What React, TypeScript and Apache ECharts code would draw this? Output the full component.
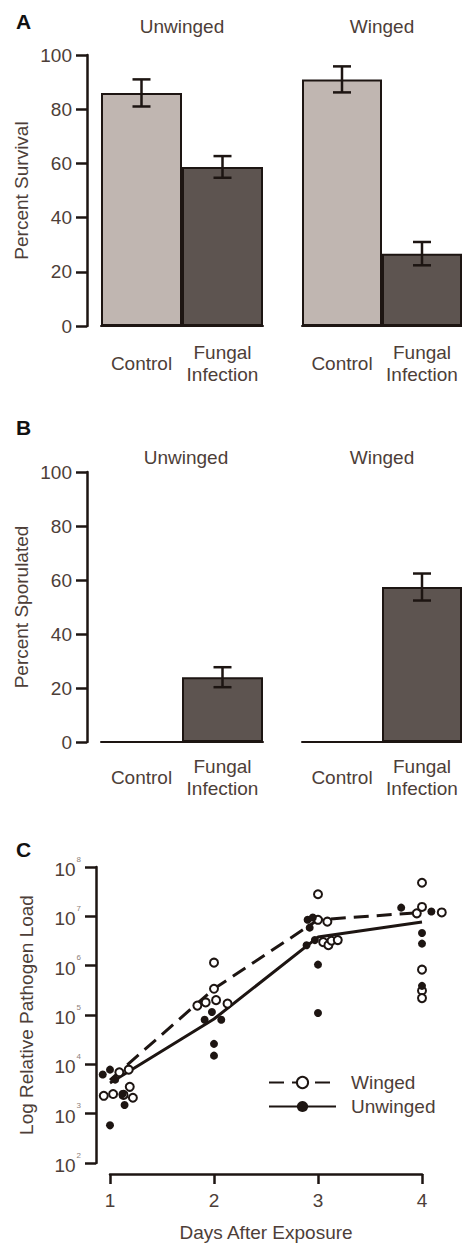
import React, { useEffect, useRef } from "react";
import * as echarts from "echarts";

// ---- Data ----
const barCategories = ["Control", "Fungal\nInfection"];
const survivalUnwinged = [86, 58.7];
const survivalUnwingedErr = [5, 4];
const survivalWinged = [91, 26.7];
const survivalWingedErr = [4.8, 4.3];
const sporulatedUnwinged = [0, 24];
const sporulatedUnwingedErr = [0, 3.7];
const sporulatedWinged = [0, 57.4];
const sporulatedWingedErr = [0, 5];

const days = [1, 2, 3, 4];
const wingedMean = [4800, 340000, 8500000, 12000000];
const unwingedMean = [4200, 83000, 3800000, 7700000];
const wingedPoints = [
  [0.94, 2300], [1.03, 2500], [1.09, 6900], [1.13, 2400], [1.18, 7800], [1.19, 3500], [1.22, 2100],
  [1.84, 155000], [1.92, 180000], [2.0, 340000], [2.0, 1150000], [2.02, 200000], [2.13, 170000],
  [3.0, 28000000], [3.0, 8500000], [3.05, 3000000], [3.09, 7800000], [3.1, 2600000], [3.13, 3200000], [3.19, 3300000],
  [3.95, 11500000], [4.0, 48000000], [4.0, 15500000], [4.19, 12000000], [4.0, 830000], [4.0, 310000], [4.0, 220000],
];
const unwingedPoints = [
  [0.93, 6200], [1.0, 7800], [1.05, 4900], [1.12, 2500], [1.14, 1500], [1.0, 580],
  [1.91, 80000], [1.98, 115000], [2.07, 80000], [2.0, 26000], [2.0, 15000],
  [2.89, 2600000], [2.9, 8500000], [2.92, 5900000], [2.95, 9500000], [2.97, 3300000], [3.0, 1050000], [3.0, 110000],
  [3.8, 15000000], [4.09, 12500000], [4.0, 4600000], [4.0, 2800000], [4.0, 390000],
];

// ---- Styles ----
const FONT = "'Liberation Sans', Arial, sans-serif";
const INK = "#1d1512";
const TEXT = "#4d3e38";
const SUP = "#8d807a";
const BAR_COLORS = ["#c0b6b1", "#5d5450"];

function barData(values: number[]) {
  return values.map((v, i) => ({ value: v, itemStyle: { color: BAR_COLORS[i] } }));
}
function errData(values: number[], errs: number[]) {
  return values
    .map((v, i) => [i, v - errs[i], v + errs[i], errs[i]])
    .filter((d) => d[3] > 0);
}

function errorRender(params: any, api: any) {
  const x = api.value(0);
  const p1 = api.coord([x, api.value(1)]);
  const p2 = api.coord([x, api.value(2)]);
  const w = 9;
  const style = { stroke: INK, lineWidth: 2.5 };
  return {
    type: "group",
    children: [
      { type: "line", shape: { x1: p1[0], y1: p1[1], x2: p2[0], y2: p2[1] }, style },
      { type: "line", shape: { x1: p1[0] - w, y1: p1[1], x2: p1[0] + w, y2: p1[1] }, style },
      { type: "line", shape: { x1: p2[0] - w, y1: p2[1], x2: p2[0] + w, y2: p2[1] }, style },
    ],
  };
}

function catAxis(gridIndex: number, margin: number) {
  return {
    type: "category",
    gridIndex,
    data: barCategories,
    axisLine: { show: true, lineStyle: { color: INK, width: 2 } },
    axisTick: { show: false },
    axisLabel: {
      fontFamily: FONT,
      fontSize: 19,
      color: TEXT,
      margin,
      verticalAlign: "middle",
      lineHeight: 22,
      interval: 0,
    },
  };
}

function pctAxis(gridIndex: number, show: boolean, name: string) {
  return {
    type: "value",
    gridIndex,
    show,
    min: 0,
    max: 100,
    interval: 20,
    offset: 14,
    name,
    nameLocation: "middle",
    nameGap: 56,
    nameTextStyle: { fontFamily: FONT, fontSize: 19, color: TEXT },
    axisLine: { show: true, lineStyle: { color: INK, width: 2.5 } },
    axisTick: { show: true, length: 11, lineStyle: { color: INK, width: 2.5 } },
    axisLabel: { fontFamily: FONT, fontSize: 19, color: TEXT, margin: 15 },
    splitLine: { show: false },
  };
}

export default function App() {
  const ref = useRef<HTMLDivElement>(null);
  useEffect(() => {
    if (!ref.current) return;
    const chart = echarts.init(ref.current, undefined, { renderer: "svg" });

    const titleText = (text: string, x: number, y: number, bold = false) => ({
      type: "text",
      x,
      y,
      style: {
        text,
        fontFamily: FONT,
        fontSize: bold ? 21 : 19,
        fontWeight: bold ? "bold" : "normal",
        fill: bold ? "#111" : TEXT,
        textAlign: bold ? "left" : "center",
        textVerticalAlign: "middle",
      },
    });

    const option: any = {
      animation: false,
      backgroundColor: "#ffffff",
      textStyle: { fontFamily: FONT },
      graphic: [
        titleText("A", 16, 21, true),
        titleText("Unwinged", 182, 26),
        titleText("Winged", 382, 26),
        titleText("B", 16, 427, true),
        titleText("Unwinged", 186, 457),
        titleText("Winged", 382, 457),
        titleText("C", 16, 849, true),
      ],
      grid: [
        { left: 101, width: 162, top: 55, height: 271 },
        { left: 302, width: 160, top: 55, height: 271 },
        { left: 101, width: 162, top: 472, height: 270 },
        { left: 302, width: 160, top: 472, height: 270 },
        { left: 110, width: 312, top: 867, height: 296 },
      ],
      xAxis: [
        catAxis(0, 37),
        catAxis(1, 37),
        catAxis(2, 35),
        catAxis(3, 35),
        {
          type: "value",
          gridIndex: 4,
          min: 1,
          max: 4,
          interval: 1,
          offset: 11,
          name: "Days After Exposure",
          nameLocation: "middle",
          nameGap: 49,
          nameTextStyle: { fontFamily: FONT, fontSize: 19, color: TEXT },
          axisLine: { show: true, lineStyle: { color: INK, width: 2.5 } },
          axisTick: { show: true, length: 10, lineStyle: { color: INK, width: 2.5 } },
          axisLabel: { fontFamily: FONT, fontSize: 19, color: TEXT, margin: 17 },
          splitLine: { show: false },
        },
      ],
      yAxis: [
        pctAxis(0, true, "Percent Survival"),
        pctAxis(1, false, ""),
        pctAxis(2, true, "Percent Sporulated"),
        pctAxis(3, false, ""),
        {
          type: "log",
          logBase: 10,
          gridIndex: 4,
          min: 100,
          max: 100000000,
          offset: 14,
          name: "Log Relative Pathogen Load",
          nameLocation: "middle",
          nameGap: 60,
          nameTextStyle: { fontFamily: FONT, fontSize: 19, color: TEXT },
          axisLine: { show: true, lineStyle: { color: INK, width: 2.5 } },
          axisTick: { show: true, length: 11, lineStyle: { color: INK, width: 2.5 } },
          axisLabel: {
            margin: 15,
            formatter: (v: number) => `{b|10}{s|${Math.round(Math.log10(v))}}`,
            rich: {
              b: { fontFamily: FONT, fontSize: 19, color: TEXT, lineHeight: 24, verticalAlign: "bottom" },
              s: { fontFamily: FONT, fontSize: 8, color: SUP, lineHeight: 10, verticalAlign: "top", padding: [0, 0, 0, 1] },
            },
          },
          splitLine: { show: false },
        },
      ],
      legend: {
        data: ["Winged", "Unwinged"],
        orient: "vertical",
        left: 263,
        top: 1068,
        itemWidth: 67,
        itemHeight: 14,
        itemGap: 5,
        textStyle: { fontFamily: FONT, fontSize: 19, color: TEXT, padding: [0, 0, 0, 10] },
      },
      series: [
        { type: "bar", xAxisIndex: 0, yAxisIndex: 0, data: barData(survivalUnwinged), barCategoryGap: "0%", itemStyle: { borderColor: INK, borderWidth: 2 } },
        { type: "custom", xAxisIndex: 0, yAxisIndex: 0, renderItem: errorRender, data: errData(survivalUnwinged, survivalUnwingedErr), encode: { x: 0, y: [1, 2] }, z: 5 },
        { type: "bar", xAxisIndex: 1, yAxisIndex: 1, data: barData(survivalWinged), barCategoryGap: "0%", itemStyle: { borderColor: INK, borderWidth: 2 } },
        { type: "custom", xAxisIndex: 1, yAxisIndex: 1, renderItem: errorRender, data: errData(survivalWinged, survivalWingedErr), encode: { x: 0, y: [1, 2] }, z: 5 },
        { type: "bar", xAxisIndex: 2, yAxisIndex: 2, data: barData(sporulatedUnwinged), barCategoryGap: "0%", itemStyle: { borderColor: INK, borderWidth: 2 } },
        { type: "custom", xAxisIndex: 2, yAxisIndex: 2, renderItem: errorRender, data: errData(sporulatedUnwinged, sporulatedUnwingedErr), encode: { x: 0, y: [1, 2] }, z: 5 },
        { type: "bar", xAxisIndex: 3, yAxisIndex: 3, data: barData(sporulatedWinged), barCategoryGap: "0%", itemStyle: { borderColor: INK, borderWidth: 2 } },
        { type: "custom", xAxisIndex: 3, yAxisIndex: 3, renderItem: errorRender, data: errData(sporulatedWinged, sporulatedWingedErr), encode: { x: 0, y: [1, 2] }, z: 5 },
        {
          name: "Winged",
          type: "line",
          xAxisIndex: 4,
          yAxisIndex: 4,
          data: days.map((d, i) => [d, wingedMean[i]]),
          symbol: "circle",
          symbolSize: 10,
          showSymbol: false,
          lineStyle: { color: INK, width: 3, type: [15, 8] },
          itemStyle: { color: "#ffffff", borderColor: INK, borderWidth: 2.5 },
          z: 2,
        },
        {
          name: "Unwinged",
          type: "line",
          xAxisIndex: 4,
          yAxisIndex: 4,
          data: days.map((d, i) => [d, unwingedMean[i]]),
          symbol: "circle",
          symbolSize: 10,
          showSymbol: false,
          lineStyle: { color: INK, width: 3 },
          itemStyle: { color: INK },
          z: 2,
        },
        {
          name: "wingedPts",
          type: "scatter",
          xAxisIndex: 4,
          yAxisIndex: 4,
          data: wingedPoints,
          symbol: "circle",
          symbolSize: 8,
          clip: false,
          itemStyle: { color: "#ffffff", borderColor: INK, borderWidth: 2, opacity: 1 },
          z: 3,
        },
        {
          name: "unwingedPts",
          type: "scatter",
          xAxisIndex: 4,
          yAxisIndex: 4,
          data: unwingedPoints,
          symbol: "circle",
          symbolSize: 8,
          clip: false,
          itemStyle: { color: INK, opacity: 1 },
          z: 3,
        },
      ],
    };
    chart.setOption(option);
    return () => chart.dispose();
  }, []);
  return (
    <div
      ref={ref}
      style={{ position: "absolute", left: 0, top: 0, width: 462, height: 1248, background: "#fff" }}
    />
  );
}
